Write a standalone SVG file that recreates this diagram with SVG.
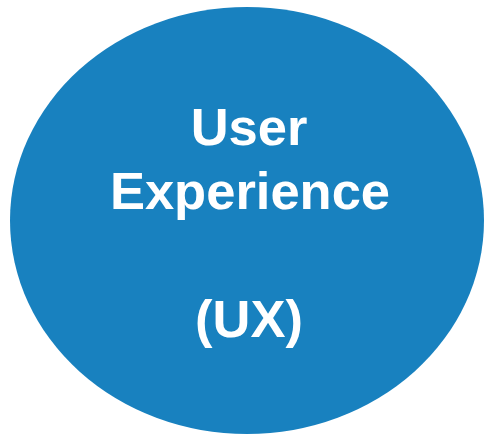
<svg xmlns="http://www.w3.org/2000/svg" width="484" height="435" viewBox="0 0 484 435">
<style>
.node{fill:#1881bf;}
.label{font-family:"Liberation Sans",Arial,sans-serif;font-weight:bold;font-size:52.5px;fill:#ffffff;text-anchor:middle;}
</style>
<rect width="484" height="435" fill="#ffffff"/>
<g id="ux">
<ellipse class="node" cx="247" cy="220.5" rx="237" ry="213.5"/>
<text class="label" x="249" y="145">User</text>
<text class="label" x="250" y="209">Experience</text>
<text class="label" x="249" y="337">(UX)</text>
</g>
<g id="connectors"></g>
</svg>
